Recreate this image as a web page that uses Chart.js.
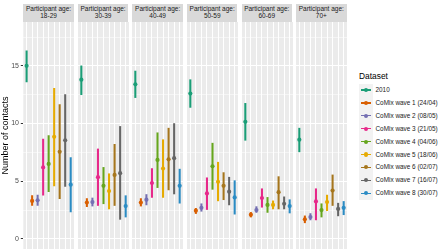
<!DOCTYPE html>
<html><head><meta charset="utf-8">
<script src="https://cdn.jsdelivr.net/npm/chart.js@4"></script>
<style>
body{margin:0;width:440px;height:251px;background:#fff;position:relative;overflow:hidden;font-family:"Liberation Sans",Arial,sans-serif}
.strip{position:absolute;top:4px;height:18px;background:#D9D9D9;color:#1A1A1A;font-size:6.5px;line-height:6.6px;text-align:center;box-sizing:border-box;padding-top:2px;white-space:nowrap}
canvas{position:absolute;top:22px}
.lgtitle{position:absolute;left:359px;top:71px;font-size:8.4px;color:#000;line-height:10px}
.lgbg{position:absolute;left:359px;top:83.5px;width:14px;height:116px;background:#F2F2F2}
.lgline{position:absolute;height:1.4px;width:10px;left:361px}
.lgdot{position:absolute;width:4.2px;height:4.2px;border-radius:50%;left:363.9px}
.lgtext{position:absolute;left:375.5px;font-size:6.4px;color:#1A1A1A;line-height:8px;white-space:nowrap}
</style></head>
<body>
<script>
const ageGroups = ['18-29','30-39','40-49','50-59','60-69','70+'];
const datasets = ['2010','CoMix wave 1 (24/04)','CoMix wave 2 (08/05)','CoMix wave 3 (21/05)','CoMix wave 4 (04/06)','CoMix wave 5 (18/06)','CoMix wave 6 (02/07)','CoMix wave 7 (16/07)','CoMix wave 8 (30/07)'];
const yTicks = [0, 5, 10, 15];

const mean_18_29 = [15.0, 3.3, 3.35, 6.2, 6.5, 8.85, 7.55, 8.55, 4.7];
const low_18_29  = [13.6, 2.9, 2.9, 3.8, 4.1, 4.6, 3.5, 4.55, 2.35];
const high_18_29 = [16.3, 3.75, 3.8, 8.65, 8.95, 13.05, 11.65, 12.5, 7.05];

const mean_30_39 = [13.8, 3.15, 3.2, 5.35, 4.6, 4.15, 5.55, 5.7, 2.85];
const low_30_39  = [12.5, 2.8, 2.85, 2.9, 3.05, 2.6, 2.9, 1.7, 1.9];
const high_30_39 = [15.0, 3.5, 3.55, 7.8, 6.2, 5.65, 8.2, 9.75, 3.75];

const mean_40_49 = [13.4, 3.15, 3.4, 4.85, 6.85, 6.1, 6.9, 7.0, 4.6];
const low_40_49  = [12.25, 2.85, 2.95, 3.6, 4.45, 3.6, 4.25, 3.9, 3.1];
const high_40_49 = [14.55, 3.5, 3.85, 6.1, 9.2, 8.6, 9.6, 10.0, 6.05];

const mean_50_59 = [12.6, 2.45, 2.7, 3.95, 6.3, 4.95, 4.6, 4.1, 3.6];
const low_50_59  = [11.4, 2.2, 2.4, 2.55, 4.3, 3.3, 3.4, 2.95, 2.15];
const high_50_59 = [13.8, 2.65, 3.05, 5.3, 8.3, 6.65, 5.75, 5.35, 5.05];

const mean_60_69 = [10.15, 2.1, 2.5, 3.55, 2.95, 2.95, 4.05, 3.05, 2.85];
const low_60_69  = [8.55, 1.9, 2.3, 2.75, 2.3, 2.6, 2.6, 2.6, 2.25];
const high_60_69 = [11.75, 2.3, 2.8, 4.35, 3.6, 3.3, 5.4, 3.65, 3.4];

const mean_70p = [8.6, 1.7, 1.9, 3.25, 2.5, 3.2, 4.2, 2.6, 2.7];
const low_70p  = [7.55, 1.4, 1.65, 1.65, 1.9, 2.45, 2.9, 2.0, 2.1];
const high_70p = [9.6, 2.0, 2.2, 4.35, 3.05, 3.8, 5.55, 3.1, 3.25];

const means = [mean_18_29, mean_30_39, mean_40_49, mean_50_59, mean_60_69, mean_70p];
const lows  = [low_18_29, low_30_39, low_40_49, low_50_59, low_60_69, low_70p];
const highs = [high_18_29, high_30_39, high_40_49, high_50_59, high_60_69, high_70p];

const colors = ['#1B9E77','#D95F02','#7570B3','#E7298A','#66A61E','#E6AB02','#A6761D','#666666','#2B8CC4'];

const FONT = '"Liberation Sans", Arial, sans-serif';
const PANEL_W = 50.5, PITCH = 54.55, FIRST_LEFT = 23.3, PANEL_H = 227;

const bgPlugin = {
  id: 'panelbg',
  beforeDraw(chart) {
    const a = chart.chartArea, c = chart.ctx;
    c.save(); c.fillStyle = '#EBEBEB';
    c.fillRect(a.left, a.top, a.right - a.left, a.bottom - a.top);
    c.restore();
  }
};

ageGroups.forEach((age, p) => {
  const left = FIRST_LEFT + p * PITCH;
  const strip = document.createElement('div');
  strip.className = 'strip';
  strip.style.left = left + 'px';
  strip.style.width = PANEL_W + 'px';
  strip.innerHTML = 'Participant age:<br>' + age;
  document.body.appendChild(strip);

  const first = p === 0;
  const cv = document.createElement('canvas');
  const cLeft = first ? 0 : left;
  const cW = first ? left + PANEL_W : PANEL_W;
  cv.width = Math.round(cW); cv.height = PANEL_H;
  cv.style.left = cLeft + 'px';
  cv.style.width = Math.round(cW) + 'px';
  cv.style.height = PANEL_H + 'px';
  document.body.appendChild(cv);

  const idx = datasets.map((d, i) => i);
  new Chart(cv, {
    type: 'bar',
    data: {
      datasets: [
        {
          type: 'line', showLine: false, order: 0,
          data: idx.map(i => ({ x: i, y: means[p][i] })),
          pointRadius: 2.1, pointBorderWidth: 0, pointHoverRadius: 2.1,
          pointBackgroundColor: colors, pointBorderColor: colors
        },
        {
          type: 'bar', order: 1,
          data: idx.map(i => ({ x: i, y: [lows[p][i], highs[p][i]] })),
          backgroundColor: colors, borderWidth: 0, barThickness: 1.4
        }
      ]
    },
    options: {
      responsive: false, animation: false, devicePixelRatio: 1,
      layout: { padding: 0, autoPadding: false },
      plugins: { legend: { display: false }, tooltip: { enabled: false }, title: { display: false } },
      scales: {
        x: {
          type: 'linear', min: -0.6, max: 8.6, offset: false,
          afterBuildTicks: s => { s.ticks = idx.map(v => ({ value: v })); },
          ticks: { display: false },
          grid: { color: '#FFFFFF', lineWidth: 1, drawTicks: false, offset: false },
          border: { display: false },
          afterFit: s => { s.height = 0; s.paddingLeft = 0; s.paddingRight = 0; }
        },
        y: {
          min: -0.87, max: 18.8,
          afterBuildTicks: s => { s.ticks = [0, 2.5, 5, 7.5, 10, 12.5, 15, 17.5].map(v => ({ value: v })); },
          ticks: {
            display: first, padding: 1.8, color: '#4D4D4D',
            font: { family: FONT, size: 7 },
            callback: v => yTicks.includes(v) ? String(v) : ''
          },
          grid: {
            color: '#FFFFFF',
            lineWidth: c => (c.tick && yTicks.includes(c.tick.value)) ? 1 : 0.5,
            drawTicks: first, tickLength: 2.5,
            tickColor: c => (c.tick && yTicks.includes(c.tick.value)) ? '#333333' : 'rgba(0,0,0,0)',
            tickWidth: 1
          },
          border: { display: false },
          title: {
            display: first, text: 'Number of contacts', color: '#000000',
            font: { family: FONT, size: 9 }, padding: 0
          },
          afterFit: s => { s.width = first ? left : 0; s.paddingTop = 0; s.paddingBottom = 0; }
        }
      }
    },
    plugins: [bgPlugin]
  });
});

// Legend
const lt = document.createElement('div');
lt.className = 'lgtitle'; lt.textContent = 'Dataset';
document.body.appendChild(lt);
const bg = document.createElement('div'); bg.className = 'lgbg';
document.body.appendChild(bg);
datasets.forEach((name, i) => {
  const cy = 90 + i * 12.9;
  const ln = document.createElement('div'); ln.className = 'lgline';
  ln.style.top = (cy - 0.7) + 'px'; ln.style.background = colors[i];
  const dt = document.createElement('div'); dt.className = 'lgdot';
  dt.style.top = (cy - 2.1) + 'px'; dt.style.background = colors[i];
  const tx = document.createElement('div'); tx.className = 'lgtext';
  tx.style.top = (cy - 4) + 'px'; tx.textContent = name;
  document.body.appendChild(ln); document.body.appendChild(dt); document.body.appendChild(tx);
});
</script>
</body></html>
